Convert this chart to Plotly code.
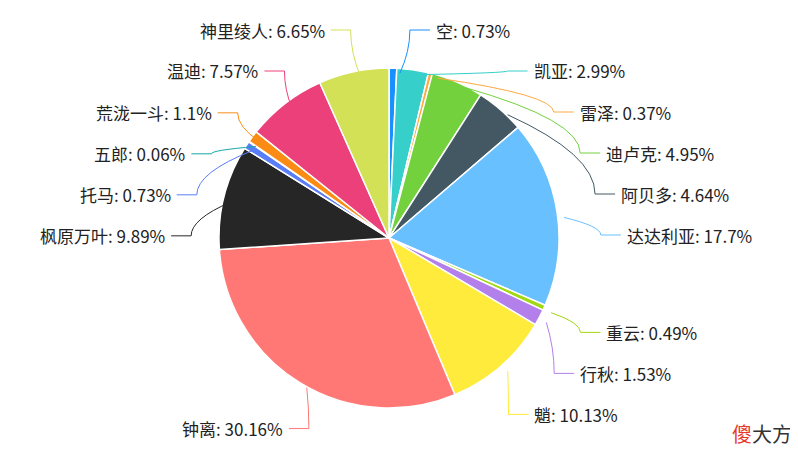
import math
import plotly.graph_objects as go

names = ["空", "凯亚", "雷泽", "迪卢克", "阿贝多", "达达利亚", "重云", "行秋", "魈",
         "钟离", "枫原万叶", "托马", "五郎", "荒泷一斗", "温迪", "神里绫人"]
values = [0.73, 2.99, 0.37, 4.95, 4.64, 17.7, 0.49, 1.53, 10.13,
          30.16, 9.89, 0.73, 0.06, 1.1, 7.57, 6.65]
colors = ["#1890ff", "#36cfc9", "#ffa940", "#73d13d", "#435863", "#69c0ff", "#a0d911",
          "#b37feb", "#ffeb3b", "#ff7875", "#262626", "#597ef7", "#13a8a8", "#fa8c16",
          "#eb407a", "#d3e157"]

W, H = 798, 462
cx, cy, R = 388, 235, 170
FONT = "Noto Sans CJK SC, Microsoft YaHei, sans-serif"

fig = go.Figure(go.Pie(
    labels=names, values=values, sort=False, direction="clockwise", rotation=0,
    marker=dict(colors=colors, line=dict(color="white", width=1.5)),
    textinfo="none", hoverinfo="label+value", showlegend=False,
    domain=dict(x=[(cx - 7 - R) / W, (cx - 7 + R) / W],
                y=[1 - (cy - 5 + R) / H, 1 - (cy - 5 - R) / H]),
))

# label placement (ECharts style: leader line + horizontal tail, de-overlapped per side)
total = sum(values)
items = []
acc = 0
for n, v, c in zip(names, values, colors):
    mid = (acc + v / 2) / total * 2 * math.pi
    acc += v
    sx, sy = math.sin(mid), -math.cos(mid)
    items.append(dict(name=n, v=v, c=c, sx=sx, sy=sy,
                      y=cy + (R + 48) * sy, right=sx >= 0))

GAP = 41
for side in (True, False):
    grp = sorted([it for it in items if it["right"] == side], key=lambda it: it["y"])
    prev = None
    for it in grp:
        it["y"] = max(it["y"], 22)
        if prev is not None and it["y"] < prev + GAP:
            it["y"] = prev + GAP
        prev = it["y"]

shapes, annos = [], []
for it in items:
    x0, y0 = cx + R * it["sx"], cy + R * it["sy"]
    dy = it["y"] - cy
    rr = R + 35
    dx = math.sqrt(max(rr * rr - dy * dy, 0))
    if abs(it["sy"]) > 0.9 and dx < 20:
        dx = abs(x0 - cx) + 10
    x1 = cx + (dx if it["right"] else -dx)
    x2 = x1 + (20 if it["right"] else -20)
    path = f"M {x0/W},{1-y0/H} Q {x1/W},{1-(y0+it['y'])/2/H} {x1/W},{1-it['y']/H} L {x2/W},{1-it['y']/H}"
    shapes.append(dict(type="path", xref="paper", yref="paper", path=path,
                       line=dict(color=it["c"], width=1)))
    annos.append(dict(x=(x2 + (4 if it["right"] else -4)) / W, y=1 - it["y"] / H,
                      xref="paper", yref="paper", showarrow=False,
                      xanchor="left" if it["right"] else "right", yanchor="middle",
                      text=f"{it['name']}: {it['v']:g}%",
                      font=dict(size=17, color="#222", family=FONT)))

annos.append(dict(x=0.985, y=0.08, xref="paper", yref="paper", showarrow=False,
                  xanchor="right", yanchor="middle",
                  text="<span style='color:#e8392b'>傻</span>大方",
                  font=dict(size=20, color="#333", family=FONT)))

fig.update_layout(
    width=W, height=H, margin=dict(l=0, r=0, t=0, b=0),
    paper_bgcolor="white", plot_bgcolor="white",
    shapes=shapes, annotations=annos,
)

fig.write_html("out.html")
